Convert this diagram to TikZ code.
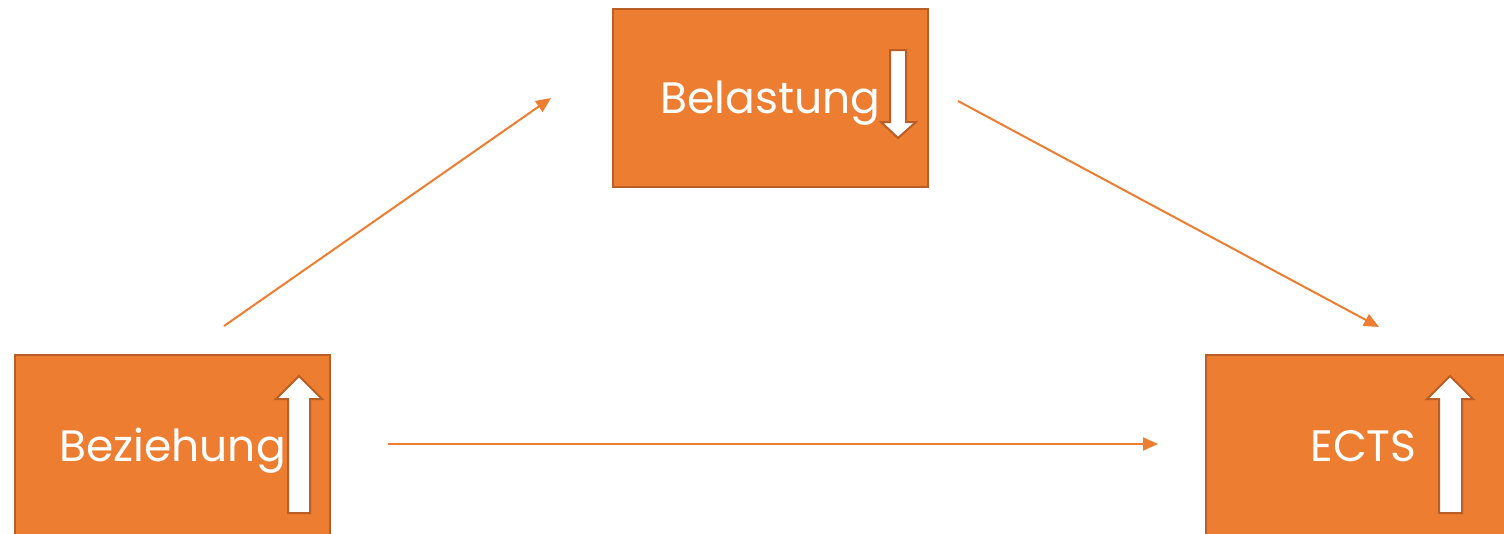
\documentclass[tikz,border=0pt]{standalone}
\usepackage{fontspec}
\setmainfont{Poppins}
\usetikzlibrary{arrows.meta}
\definecolor{boxfill}{HTML}{ED7D31}
\definecolor{boxedge}{HTML}{B95E25}
\definecolor{linkcol}{HTML}{ED7D31}
\begin{document}
\begin{tikzpicture}[x=1pt,y=-1pt,
  factor/.style={rectangle,draw=boxedge,fill=boxfill,line width=2pt,
    minimum width=315pt,minimum height=178pt,inner sep=0pt,
    text=white,font=\fontsize{44}{52}\selectfont,
    text height=31pt,text depth=0pt},
  link/.style={draw=linkcol,line width=2pt,
    -{Triangle[length=15pt,width=13pt]}},
  trend/.style={draw=boxedge,fill=white,line width=2pt,line join=miter}]
\useasboundingbox (0,0) rectangle (1504,533);
\fill[white] (0,0) rectangle (1504,533);

% the three factors
\node[factor] (bel) at (770.5,98) {Belastung};
\node[factor,minimum height=182pt] (bez) at (172.5,446) {Beziehung};
\node[factor,minimum height=182pt] (ects) at (1363.5,446) {ECTS};

% trend arrows inside the boxes
\draw[trend] (890,50) -- (906,50) -- (906,122) -- (916,122) -- (898,138)
  -- (881,122) -- (890,122) -- cycle;
\draw[trend] (288,513) -- (310,513) -- (310,399) -- (322,399) -- (299,376)
  -- (276,399) -- (288,399) -- cycle;
\draw[trend] (1439,513) -- (1462,513) -- (1462,399) -- (1473,399) -- (1450,376)
  -- (1427,399) -- (1439,399) -- cycle;

% connector end points
\coordinate (bezA) at (224,326);
\coordinate (belA) at (551,98);
\coordinate (belB) at (958,101);
\coordinate (ectsA) at (1379,327);
\coordinate (bezB) at (388,444);
\coordinate (ectsB) at (1158,444);

\draw[link] (bezA) -- (belA);
\draw[link] (belB) -- (ectsA);
\draw[link] (bezB) -- (ectsB);
\end{tikzpicture}
\end{document}
